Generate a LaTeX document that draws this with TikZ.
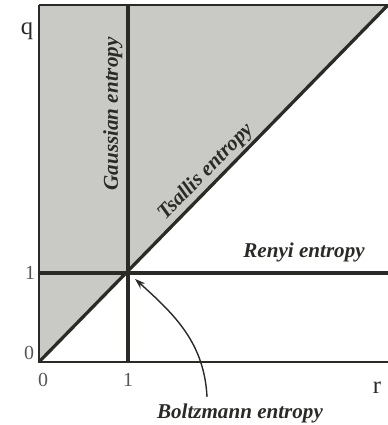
\documentclass[tikz,border=0pt]{standalone}
\usepackage{fontspec}
\setmainfont{Liberation Serif}
\usepackage{tikz}
\usetikzlibrary{arrows.meta}
\usepackage{xcolor}

\definecolor{areagray}{RGB}{201,201,197}
\definecolor{ink}{RGB}{42,42,38}
\definecolor{tick}{RGB}{85,85,82}

\tikzset{
  axisline/.style={draw=ink,line width=1.7pt},
  entline/.style={draw=ink,line width=2.8pt},
  entlabel/.style={text=ink,font=\fontsize{18}{20}\selectfont\bfseries\itshape,inner sep=0pt},
  ticklabel/.style={text=tick,font=\fontsize{17}{19}\selectfont,inner sep=0pt},
  varlabel/.style={text=ink,font=\fontsize{21}{23}\selectfont,inner sep=0pt}
}

\begin{document}
\begin{tikzpicture}[x=2.67cm,y=2.67cm]
\useasboundingbox (-0.438,-0.708) rectangle (3.921,4.067);

% Corners
\coordinate (O) at (0,0);
\coordinate (qtop) at (0,4.011);
\coordinate (rend) at (3.921,0);
\coordinate (tr) at (3.921,4.011);

% Shaded region q > r
\fill[areagray] (O) -- (tr) -- (qtop) -- cycle;

% Axes and frame
\draw[axisline] (qtop) -- (O) -- (rend);
\draw[axisline] (qtop) -- (tr);

% Entropy lines
\draw[entline] (1,0) -- (1,4.011);
\draw[entline] (0,1) -- (3.921,1);
\draw[entline] (O) -- (tr);

% Tick labels
\node[ticklabel] (y1) at (-0.101,1.0) {1};
\node[ticklabel] (y0) at (-0.112,0.101) {0};
\node[ticklabel] (x0) at (0.045,-0.202) {0};
\node[ticklabel] (x1) at (1.0,-0.202) {1};
\node[varlabel] (q) at (-0.135,3.72) {q};
\node[varlabel] (r) at (3.798,-0.287) {r};

% Entropy labels
\node[entlabel,rotate=90] (gauss) at (0.831,2.787) {Gaussian entropy};
\node[entlabel,rotate=45.65] (tsallis) at (1.876,2.135) {Tsallis entropy};
\node[entlabel] (renyi) at (2.978,1.236) {Renyi entropy};
\node[entlabel] (boltz) at (2.258,-0.573) {Boltzmann entropy};

% Arrow to (1,1)
\coordinate (bfoot) at (1.888,-0.393);
\coordinate (bpt) at (1.079,0.933);
\draw[draw=ink,line width=1.2pt,-{Stealth[length=9pt,width=6pt]}]
  (bfoot) to[out=93,in=-42] (bpt);

\end{tikzpicture}
\end{document}
